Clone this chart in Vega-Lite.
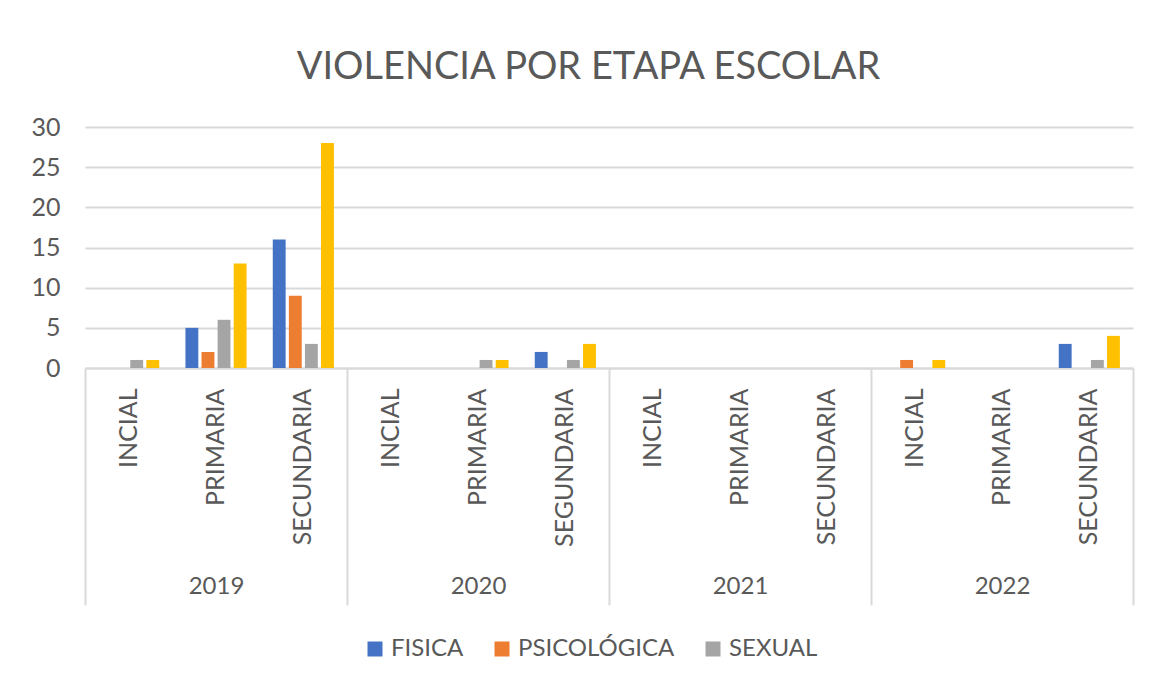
{
  "$schema": "https://vega.github.io/schema/vega-lite/v6.json",
  "width": 1048,
  "height": 241,
  "autosize": {"type": "none"},
  "padding": {"left": 85, "top": 127, "right": 22, "bottom": 318},
  "background": "white",
  "title": {
    "text": "VIOLENCIA  POR ETAPA ESCOLAR",
    "font": "Lato",
    "fontSize": 38,
    "fontWeight": "normal",
    "color": "#595959",
    "anchor": "middle",
    "frame": "bounds",
    "offset": 28,
    "dx": 6
  },
  "config": {
    "view": {"stroke": null},
    "axis": {"labelFont": "Lato", "labelColor": "#595959", "labelFontSize": 24, "title": null},
    "legend": {"labelFont": "Lato", "labelColor": "#595959", "labelFontSize": 24}
  },
  "data": {
    "values": [
      {"year": "2019", "cat": "2019|INCIAL", "serie": "FISICA", "valor": 0},
      {"year": "2019", "cat": "2019|INCIAL", "serie": "PSICOLÓGICA", "valor": 0},
      {"year": "2019", "cat": "2019|INCIAL", "serie": "SEXUAL", "valor": 1},
      {"year": "2019", "cat": "2019|INCIAL", "serie": "TOTAL", "valor": 1},
      {"year": "2019", "cat": "2019|PRIMARIA", "serie": "FISICA", "valor": 5},
      {"year": "2019", "cat": "2019|PRIMARIA", "serie": "PSICOLÓGICA", "valor": 2},
      {"year": "2019", "cat": "2019|PRIMARIA", "serie": "SEXUAL", "valor": 6},
      {"year": "2019", "cat": "2019|PRIMARIA", "serie": "TOTAL", "valor": 13},
      {"year": "2019", "cat": "2019|SECUNDARIA", "serie": "FISICA", "valor": 16},
      {"year": "2019", "cat": "2019|SECUNDARIA", "serie": "PSICOLÓGICA", "valor": 9},
      {"year": "2019", "cat": "2019|SECUNDARIA", "serie": "SEXUAL", "valor": 3},
      {"year": "2019", "cat": "2019|SECUNDARIA", "serie": "TOTAL", "valor": 28},
      {"year": "2020", "cat": "2020|INCIAL", "serie": "FISICA", "valor": 0},
      {"year": "2020", "cat": "2020|INCIAL", "serie": "PSICOLÓGICA", "valor": 0},
      {"year": "2020", "cat": "2020|INCIAL", "serie": "SEXUAL", "valor": 0},
      {"year": "2020", "cat": "2020|INCIAL", "serie": "TOTAL", "valor": 0},
      {"year": "2020", "cat": "2020|PRIMARIA", "serie": "FISICA", "valor": 0},
      {"year": "2020", "cat": "2020|PRIMARIA", "serie": "PSICOLÓGICA", "valor": 0},
      {"year": "2020", "cat": "2020|PRIMARIA", "serie": "SEXUAL", "valor": 1},
      {"year": "2020", "cat": "2020|PRIMARIA", "serie": "TOTAL", "valor": 1},
      {"year": "2020", "cat": "2020|SEGUNDARIA", "serie": "FISICA", "valor": 2},
      {"year": "2020", "cat": "2020|SEGUNDARIA", "serie": "PSICOLÓGICA", "valor": 0},
      {"year": "2020", "cat": "2020|SEGUNDARIA", "serie": "SEXUAL", "valor": 1},
      {"year": "2020", "cat": "2020|SEGUNDARIA", "serie": "TOTAL", "valor": 3},
      {"year": "2021", "cat": "2021|INCIAL", "serie": "FISICA", "valor": 0},
      {"year": "2021", "cat": "2021|INCIAL", "serie": "PSICOLÓGICA", "valor": 0},
      {"year": "2021", "cat": "2021|INCIAL", "serie": "SEXUAL", "valor": 0},
      {"year": "2021", "cat": "2021|INCIAL", "serie": "TOTAL", "valor": 0},
      {"year": "2021", "cat": "2021|PRIMARIA", "serie": "FISICA", "valor": 0},
      {"year": "2021", "cat": "2021|PRIMARIA", "serie": "PSICOLÓGICA", "valor": 0},
      {"year": "2021", "cat": "2021|PRIMARIA", "serie": "SEXUAL", "valor": 0},
      {"year": "2021", "cat": "2021|PRIMARIA", "serie": "TOTAL", "valor": 0},
      {"year": "2021", "cat": "2021|SECUNDARIA", "serie": "FISICA", "valor": 0},
      {"year": "2021", "cat": "2021|SECUNDARIA", "serie": "PSICOLÓGICA", "valor": 0},
      {"year": "2021", "cat": "2021|SECUNDARIA", "serie": "SEXUAL", "valor": 0},
      {"year": "2021", "cat": "2021|SECUNDARIA", "serie": "TOTAL", "valor": 0},
      {"year": "2022", "cat": "2022|INCIAL", "serie": "FISICA", "valor": 0},
      {"year": "2022", "cat": "2022|INCIAL", "serie": "PSICOLÓGICA", "valor": 1},
      {"year": "2022", "cat": "2022|INCIAL", "serie": "SEXUAL", "valor": 0},
      {"year": "2022", "cat": "2022|INCIAL", "serie": "TOTAL", "valor": 1},
      {"year": "2022", "cat": "2022|PRIMARIA", "serie": "FISICA", "valor": 0},
      {"year": "2022", "cat": "2022|PRIMARIA", "serie": "PSICOLÓGICA", "valor": 0},
      {"year": "2022", "cat": "2022|PRIMARIA", "serie": "SEXUAL", "valor": 0},
      {"year": "2022", "cat": "2022|PRIMARIA", "serie": "TOTAL", "valor": 0},
      {"year": "2022", "cat": "2022|SECUNDARIA", "serie": "FISICA", "valor": 3},
      {"year": "2022", "cat": "2022|SECUNDARIA", "serie": "PSICOLÓGICA", "valor": 0},
      {"year": "2022", "cat": "2022|SECUNDARIA", "serie": "SEXUAL", "valor": 1},
      {"year": "2022", "cat": "2022|SECUNDARIA", "serie": "TOTAL", "valor": 4}
    ]
  },
  "layer": [
    {
      "mark": {"type": "bar", "opacity": 0},
      "encoding": {
        "x": {
          "field": "year",
          "type": "nominal",
          "sort": null,
          "scale": {"paddingInner": 0, "paddingOuter": 0},
          "axis": {
            "orient": "bottom",
            "domain": false,
            "grid": false,
            "ticks": true,
            "tickBand": "extent",
            "tickSize": 237,
            "tickWidth": 2,
            "tickColor": "#d9d9d9",
            "labelAngle": 0,
            "labelPadding": -31,
            "labelBaseline": "top"
          }
        },
        "y": {
          "field": "valor",
          "type": "quantitative",
          "stack": null,
          "scale": {"domain": [0, 30]},
          "axis": {
            "values": [0, 5, 10, 15, 20, 25, 30],
            "domain": false,
            "ticks": false,
            "grid": true,
            "gridColor": "#d9d9d9",
            "gridWidth": 2,
            "labelPadding": 25,
            "labelFontSize": 25
          }
        }
      }
    },
    {
      "mark": {"type": "bar"},
      "encoding": {
        "x": {
          "field": "cat",
          "type": "nominal",
          "sort": null,
          "scale": {"paddingInner": 0.3, "paddingOuter": 0.15},
          "axis": {
            "orient": "bottom",
            "labelExpr": "split(datum.label, '|')[1]",
            "labelAngle": -90,
            "labelAlign": "right",
            "labelBaseline": "middle",
            "labelPadding": 20,
            "labelLimit": 300,
            "labelFontSize": 25,
            "ticks": false,
            "grid": false,
            "domain": true,
            "domainColor": "#d9d9d9",
            "domainWidth": 2
          }
        },
        "xOffset": {
          "field": "serie",
          "type": "nominal",
          "sort": ["FISICA", "PSICOLÓGICA", "SEXUAL", "TOTAL"],
          "scale": {"paddingInner": 0.2, "paddingOuter": 0}
        },
        "y": {"field": "valor", "type": "quantitative", "stack": null},
        "color": {
          "field": "serie",
          "type": "nominal",
          "scale": {
            "domain": ["FISICA", "PSICOLÓGICA", "SEXUAL", "TOTAL"],
            "range": ["#4472C4", "#ED7D31", "#A5A5A5", "#FFC000"]
          },
          "legend": {
            "values": ["FISICA", "PSICOLÓGICA", "SEXUAL"],
            "title": null,
            "orient": "none",
            "legendX": 278,
            "legendY": 510,
            "direction": "horizontal",
            "symbolType": "square",
            "symbolSize": 225,
            "symbolStrokeWidth": 0,
            "labelOffset": 4,
            "columnPadding": 26
          }
        }
      }
    }
  ],
  "resolve": {"scale": {"x": "independent"}, "axis": {"x": "independent"}}
}
